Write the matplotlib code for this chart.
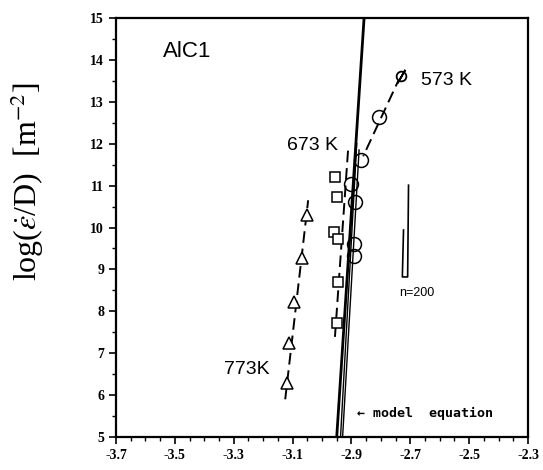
import numpy as np
import matplotlib.pyplot as plt
from matplotlib.ticker import MultipleLocator, FixedLocator, FormatStrFormatter

plt.rcParams['mathtext.fontset'] = 'stix'

# 773 K (triangles)
t773_x = [-3.120, -3.111, -3.094, -3.069, -3.052]
t773_y = [6.29, 7.24, 8.22, 9.27, 10.30]
fit773_x = [-3.125, -3.047]
fit773_y = [5.9, 10.65]

# 673 K (squares)
s673_x = [-2.956, -2.948, -2.958, -2.947, -2.945, -2.948]
s673_y = [11.21, 10.73, 9.89, 9.73, 8.70, 7.72]
fit673_x = [-2.956, -2.911]
fit673_y = [7.39, 11.89]

# 573 K (circles), first point is the slashed one
c573_x = [-2.733, -2.805, -2.867, -2.903, -2.888, -2.891, -2.891]
c573_y = [13.62, 12.63, 11.62, 11.04, 10.62, 9.61, 9.32]
fit573_x = [-2.733, -2.860]
fit573_y = [13.62, 11.70]

# model equation lines
model_x = [[-2.950, -2.857], [-2.937, -2.882], [-2.930, -2.874]]
model_y = [[5.0, 15.0], [5.0, 12.0], [5.0, 11.85]]
model_lw = [2.0, 1.0, 1.0]

# n=200 scale mark
bar_x = [-2.706, -2.709, -2.727, -2.723]
bar_y = [11.01, 8.82, 8.82, 9.94]

x_ticks = [-3.7, -3.5, -3.3, -3.1, -2.9, -2.7, -2.5, -2.3]

fig = plt.figure(figsize=(5.43, 4.70), dpi=100)
ax = fig.add_axes([0.2136, 0.0702, 0.7588, 0.8915])

for mx, my, lw in zip(model_x, model_y, model_lw):
    ax.plot(mx, my, color='black', lw=lw)

ax.plot(fit773_x, fit773_y, color='black', lw=1.4, dashes=(6, 3))
ax.plot(fit673_x, fit673_y, color='black', lw=1.4, dashes=(6, 3))
ax.plot(fit573_x, fit573_y, color='black', lw=1.4, dashes=(6, 3))

ax.plot(t773_x, t773_y, ls='none', marker='^', ms=9, mfc='white', mec='black', mew=1.1)
ax.plot(s673_x, s673_y, ls='none', marker='s', ms=7, mfc='white', mec='black', mew=1.1)
ax.plot(c573_x[1:], c573_y[1:], ls='none', marker='o', ms=10, mfc='none', mec='black', mew=1.1)
ax.plot(c573_x[:1], c573_y[:1], ls='none', marker='o', ms=7, mfc='white', mec='black', mew=1.3)
ax.plot(c573_x[:1], c573_y[:1], ls='none', marker=(2, 2, -30), ms=11, mec='black', mew=1.3)

ax.plot(bar_x, bar_y, color='black', lw=1.2)

ax.text(-3.540, 14.19, 'AlC1', fontsize=16, va='center', ha='left', family='Liberation Sans')
ax.text(-2.665, 13.52, '573 K', fontsize=14, va='center', ha='left', family='Liberation Sans')
ax.text(-2.946, 11.95, '673 K', fontsize=14, va='center', ha='right', family='Liberation Sans')
ax.text(-3.177, 6.6, '773K', fontsize=14, va='center', ha='right', family='Liberation Sans')
ax.text(-2.677, 8.44, 'n=200', fontsize=9, va='center', ha='center', family='Liberation Sans')
ax.text(-2.881, 5.55, '\u2190 model  equation', fontsize=9.5, va='center', ha='left',
        family='DejaVu Sans Mono', weight='bold')

ax.set_xlim(-3.7, -2.3)
ax.set_ylim(5, 15)
ax.xaxis.set_major_locator(FixedLocator(x_ticks))
ax.xaxis.set_minor_locator(MultipleLocator(0.05))
ax.yaxis.set_major_locator(MultipleLocator(1))
ax.yaxis.set_minor_locator(MultipleLocator(0.5))
ax.xaxis.set_major_formatter(FormatStrFormatter('%.1f'))
ax.yaxis.set_major_formatter(FormatStrFormatter('%d'))
ax.tick_params(which='major', direction='out', length=5, width=1.2)
ax.tick_params(which='minor', direction='out', length=3, width=1.0)
for lab in ax.get_xticklabels() + ax.get_yticklabels():
    lab.set_fontweight('bold')
    lab.set_family('Liberation Serif')
    lab.set_fontsize(10)
for sp in ax.spines.values():
    sp.set_linewidth(1.6)

ax.set_ylabel(r'log($\dot{\varepsilon}$/D)  [m$^{-2}$]', fontsize=23, family='Liberation Serif')
ax.yaxis.set_label_coords(-0.17, 0.61)

fig.savefig('out.png', dpi=100)
